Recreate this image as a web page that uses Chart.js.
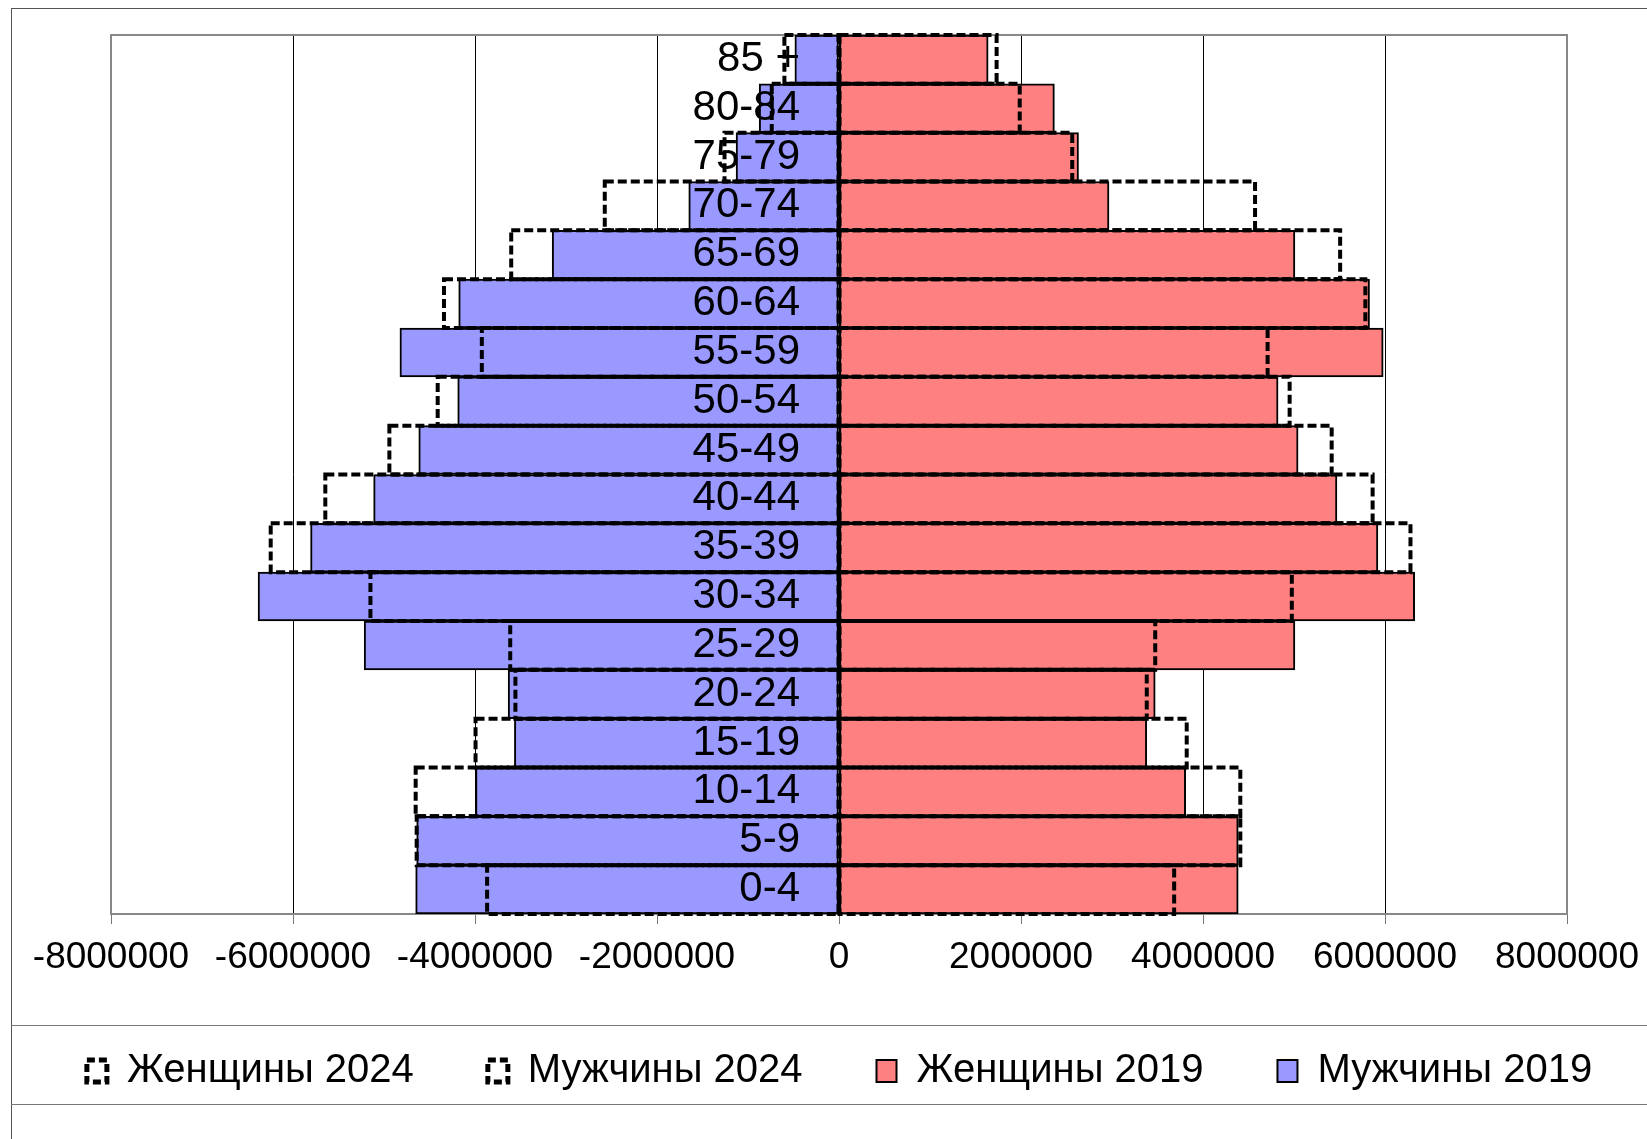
<!DOCTYPE html>
<html lang="ru">
<head>
<meta charset="utf-8">
<title>Население по полу и возрасту, 2019 и 2024</title>
<script src="https://cdn.jsdelivr.net/npm/chart.js@4.4.1/dist/chart.umd.min.js"></script>
<style>
  html, body { margin: 0; padding: 0; background: #fff; overflow: hidden; }
  body { width: 1647px; height: 1139px; position: relative; }
  #frame { position: absolute; left: 11px; top: 8px; width: 1700px; height: 1200px;
           border-left: 1px solid #555; border-top: 1px solid #555; }
  .sep { position: absolute; left: 11px; width: 1700px; height: 1px; background: #777; }
  #chart { position: absolute; left: -40px; top: 0; }
</style>
</head>
<body>
<div id="frame"></div>
<div class="sep" style="top:1025px"></div>
<div class="sep" style="top:1104px"></div>
<canvas id="chart" width="1760" height="1139"></canvas>
<script>
(function () {
  "use strict";

  // ── Data, top row first ──
  const ageGroups = ["85 +", "80-84", "75-79", "70-74", "65-69", "60-64", "55-59", "50-54", "45-49",
                     "40-44", "35-39", "30-34", "25-29", "20-24", "15-19", "10-14", "5-9", "0-4"];

  const women2024 = [1732000, 1986000, 2563000, 4572000, 5507000, 5784000, 4710000, 4952000, 5414000,
                     5864000, 6280000, 4976000, 3475000, 3382000, 3821000, 4410000, 4410000, 3683000];
  const men2024   = [-600000, -739000, -1258000, -2574000, -3602000, -4341000, -3925000, -4410000, -4941000,
                     -5645000, -6245000, -5149000, -3613000, -3556000, -3994000, -4652000, -4641000, -3867000];
  const women2019 = [1639000, 2367000, 2632000, 2967000, 5010000, 5830000, 5980000, 4825000, 5045000,
                     5472000, 5922000, 6326000, 5010000, 3475000, 3382000, 3810000, 4387000, 4387000];
  const men2019   = [-485000, -877000, -1131000, -1651000, -3152000, -4179000, -4825000, -4190000, -4618000,
                     -5114000, -5807000, -6384000, -5218000, -3636000, -3567000, -3994000, -4641000, -4652000];

  const xTicks = [-8000000, -6000000, -4000000, -2000000, 0, 2000000, 4000000, 6000000, 8000000];

  const FONT = "'Liberation Sans', Arial, sans-serif";
  const RED  = "#ff8080";
  const BLUE = "#9999ff";

  // ── Plugins ──

  // grey frame round the plot area
  const plotFrame = {
    id: "plotFrame",
    beforeDatasetsDraw(chart) {
      const a = chart.chartArea, ctx = chart.ctx;
      ctx.save();
      ctx.strokeStyle = "#888";
      ctx.lineWidth = 2;
      ctx.strokeRect(a.left, a.top, a.right - a.left, a.bottom - a.top);
      ctx.restore();
    }
  };

  // bar element has no dash option, so the 2024 outlines are stroked here
  const dashedOutline = {
    id: "dashedOutline",
    afterDatasetsDraw(chart) {
      const ctx = chart.ctx;
      chart.data.datasets.forEach((ds, i) => {
        if (!ds.dashed || !chart.isDatasetVisible(i)) return;
        ctx.save();
        ctx.strokeStyle = "#000";
        ctx.lineWidth = 4;
        ctx.setLineDash([9, 4]);
        chart.getDatasetMeta(i).data.forEach(bar => {
          const p = bar.getProps(["x", "y", "base", "height"], true);
          const left = Math.min(p.x, p.base);
          ctx.strokeRect(left, p.y - p.height / 2, Math.abs(p.x - p.base), p.height);
        });
        ctx.restore();
      });
    }
  };

  function legendLabels(chart) {
    const items = Chart.defaults.plugins.legend.labels.generateLabels(chart);
    items.forEach(it => {
      const ds = chart.data.datasets[it.datasetIndex];
      it.strokeStyle = "#000";
      if (ds.dashed) {
        it.fillStyle = "#fff";
        it.lineWidth = 5;
        it.lineDash = [8, 4];
      } else {
        it.lineWidth = 2;
      }
    });
    return items;
  }

  const filled = (label, data, color) => ({
    label, data,
    backgroundColor: color,
    borderColor: "#000",
    borderWidth: 2,
    borderSkipped: false,
    grouped: false
  });
  const dashed = (label, data) => ({
    label, data,
    dashed: true,
    backgroundColor: "rgba(0,0,0,0)",
    borderWidth: 0,
    grouped: false
  });

  // fixed-width spacer axes hold the plot area where the reference has it
  const spacer = (position, width) => ({
    type: "linear",
    position,
    display: true,
    ticks: { display: false },
    grid: { display: false },
    border: { display: false },
    afterFit(scale) { scale.width = width; }
  });

  new Chart(document.getElementById("chart"), {
    type: "bar",
    data: {
      labels: ageGroups,
      datasets: [
        dashed("Женщины 2024", women2024),
        dashed("Мужчины 2024", men2024),
        filled("Женщины 2019", women2019, RED),
        filled("Мужчины 2019", men2019, BLUE)
      ]
    },
    options: {
      indexAxis: "y",
      responsive: false,
      animation: false,
      events: [],
      layout: { padding: { left: 11, right: 12, top: 35, bottom: 38 } },
      datasets: { bar: { categoryPercentage: 1, barPercentage: 1 } },
      scales: {
        y: {
          type: "category",
          position: "center",
          grid: { display: false, drawTicks: false },
          border: { display: false },
          ticks: { font: { size: 42, family: FONT }, color: "#000", padding: 39, autoSkip: false, z: 1 },
          // the labels sit inside the plot, so they must not push it down
          afterFit(scale) { scale.paddingTop = 0; scale.paddingBottom = 0; }
        },
        x: {
          type: "linear",
          min: xTicks[0],
          max: xTicks[xTicks.length - 1],
          afterBuildTicks(scale) { scale.ticks = xTicks.map(v => ({ value: v })); },
          afterFit(scale) { scale.height = 63; },
          grid: { color: "#000", lineWidth: 1, tickLength: 10, tickColor: "#777" },
          border: { display: false },
          ticks: {
            callback: v => String(v),
            font: { size: 37, family: FONT, lineHeight: 0.92 },
            color: "#000",
            padding: 17,
            maxRotation: 0,
            autoSkip: false
          }
        },
        yl: spacer("left", 140),
        yr: spacer("right", 141)
      },
      plugins: {
        tooltip: { enabled: false },
        legend: {
          position: "bottom",
          labels: {
            font: { size: 40, family: FONT },
            color: "#000",
            boxWidth: 20,
            boxHeight: 22,
            padding: 74,
            generateLabels: legendLabels
          }
        }
      }
    },
    plugins: [plotFrame, dashedOutline]
  });
})();
</script>
</body>
</html>
